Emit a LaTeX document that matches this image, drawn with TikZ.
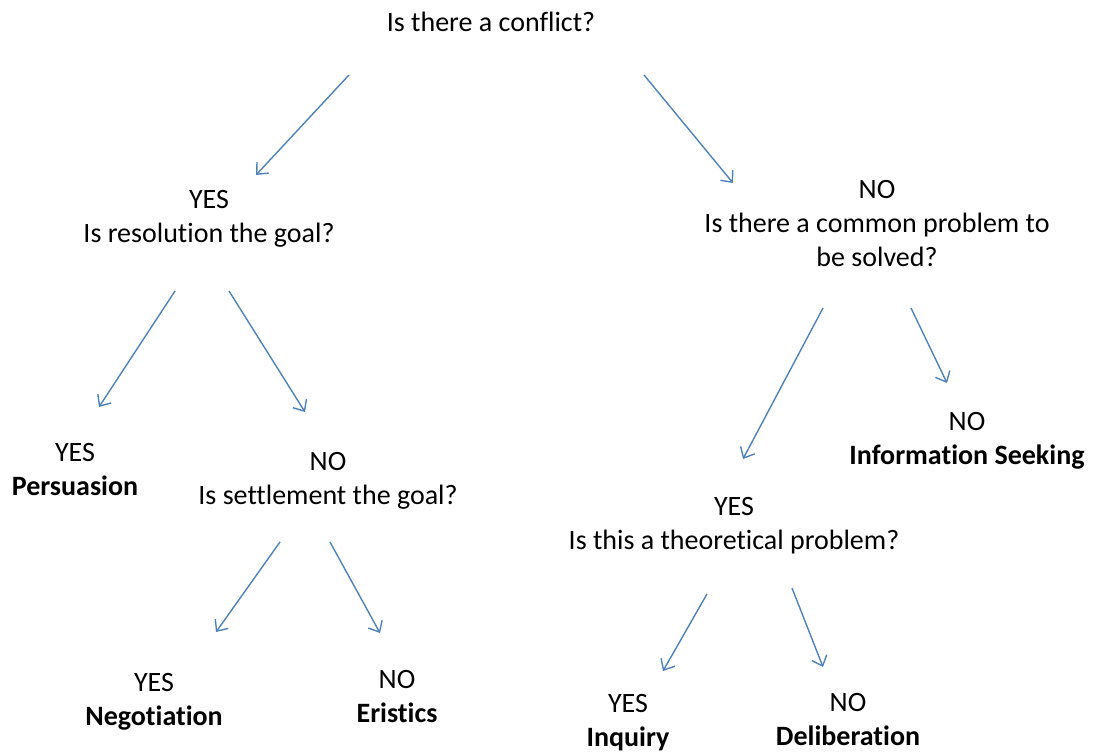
\documentclass[tikz,border=0pt]{standalone}
\usepackage{fontspec}
\setmainfont{Carlito}[Ligatures={NoCommon}]
\usetikzlibrary{arrows.meta}
\definecolor{linkblue}{RGB}{79,129,189}
\begin{document}
\begin{tikzpicture}[x=1pt,y=-1pt,
  q/.style={align=center,inner sep=0pt,font=\fontsize{28}{34}\selectfont},
  link/.style={draw=linkblue,line width=1.4pt,-{Straight Barb[length=9pt,width=16pt,line width=1.4pt]}}]
\useasboundingbox (0,0) rectangle (1095,752);

% questions and outcomes
\node[q] (conflict) at (491,22) {Is there a conflict?};
\node[q] (resolution) at (209,219) {YES\\Is resolution the goal?};
\node[q] (common) at (877,224) {NO\\Is there a common problem to\\be solved?};
\node[q] (persuasion) at (75,470) {YES\\\textbf{Persuasion}};
\node[q] (settlement) at (328,481) {NO\\Is settlement the goal?};
\node[q] (info) at (967,441) {NO\\\textbf{Information Seeking}};
\node[q] (theory) at (734,526) {YES\\Is this a theoretical problem?};
\node[q] (negotiation) at (154,702) {YES\\\textbf{Negotiation}};
\node[q] (eristics) at (397,697) {NO\\\textbf{Eristics}};
\node[q] (inquiry) at (628,723) {YES\\\textbf{Inquiry}};
\node[q] (deliberation) at (848,720) {NO\\\textbf{Deliberation}};

% arrow end points
\coordinate (c1a) at (349,75);  \coordinate (c1b) at (256,175);
\coordinate (c2a) at (644,75);  \coordinate (c2b) at (733,183);
\coordinate (r1a) at (175,291); \coordinate (r1b) at (99,407);
\coordinate (r2a) at (229,291); \coordinate (r2b) at (305,412);
\coordinate (m1a) at (823,308); \coordinate (m1b) at (743,459);
\coordinate (m2a) at (911,308); \coordinate (m2b) at (947,383);
\coordinate (s1a) at (280,542); \coordinate (s1b) at (216,632);
\coordinate (s2a) at (330,542); \coordinate (s2b) at (380,633);
\coordinate (t1a) at (707,594); \coordinate (t1b) at (663,671);
\coordinate (t2a) at (792,588); \coordinate (t2b) at (823,667);

\draw[link] (c1a) -- (c1b);
\draw[link] (c2a) -- (c2b);
\draw[link] (r1a) -- (r1b);
\draw[link] (r2a) -- (r2b);
\draw[link] (m1a) -- (m1b);
\draw[link] (m2a) -- (m2b);
\draw[link] (s1a) -- (s1b);
\draw[link] (s2a) -- (s2b);
\draw[link] (t1a) -- (t1b);
\draw[link] (t2a) -- (t2b);
\end{tikzpicture}
\end{document}
